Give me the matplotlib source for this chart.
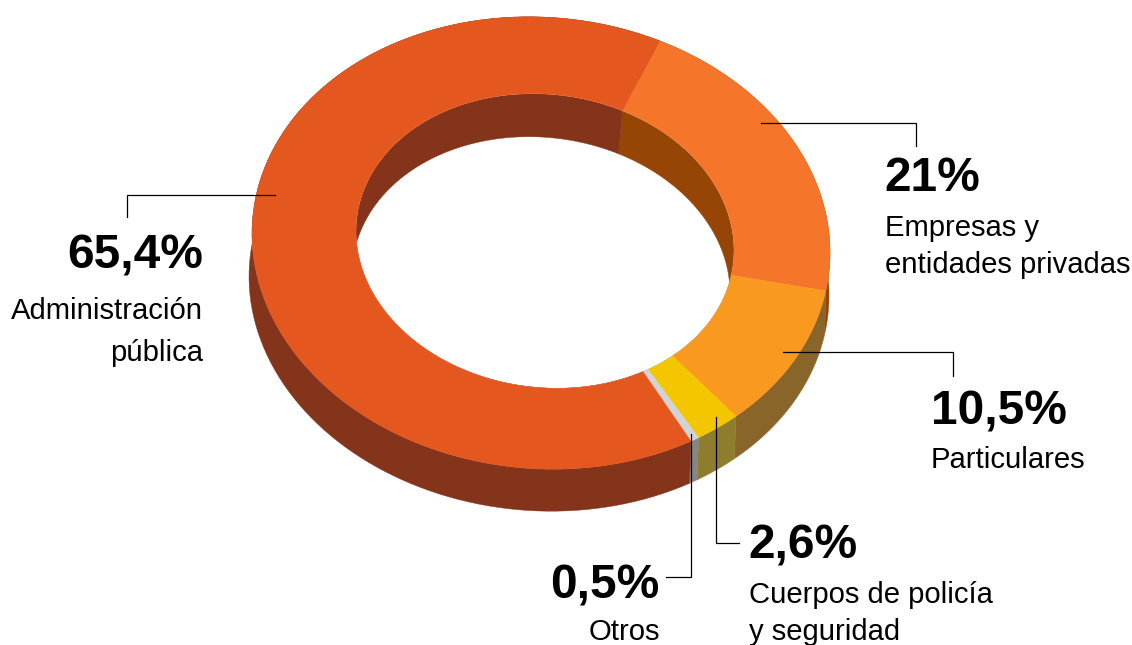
import numpy as np
import matplotlib
matplotlib.use("Agg")
import matplotlib.pyplot as plt
from matplotlib.patches import Polygon

plt.rcParams["font.family"] = ["Liberation Sans", "DejaVu Sans"]

# clockwise from the 21% slice
names = ["Empresas y\nentidades privadas", "Particulares", "Cuerpos de policía\ny seguridad", "Otros", "Administración\npública"]
shares = [21, 10.5, 2.6, 0.5, 65.4]
share_labels = ["21%", "10,5%", "2,6%", "0,5%", "65,4%"]
top_colors = ["#f5762a", "#fa991f", "#f3c600", "#d1d3d4", "#e4571f"]
side_colors = ["#964505", "#8a652a", "#8f7d2e", "#858585", "#84341a"]

START_ANGLE = 24.2

# ellipses of the fake 3D ring, in pixels: cx, cy, rx, ry, tilt
OUTER_TOP = (541, 243, 289, 226, 0.033)
OUTER_BOTTOM = (539, 286, 290, 225, 0.033)
INNER_TOP = (545, 241, 189, 147, 0.05)
INNER_BOTTOM = (541, 284, 189, 147, 0.05)


def arc(ellipse, a0, a1):
    cx, cy, rx, ry, tilt = ellipse
    t = np.radians(np.linspace(a0, a1, 120))
    x = rx * np.sin(t)
    return np.column_stack([cx + x, cy - ry * np.cos(t) + tilt * x])


def band(ax, e1, e2, a0, a1, color, clip=None):
    pts = np.vstack([arc(e1, a0, a1), arc(e2, a1, a0)])
    patch = Polygon(pts, closed=True, facecolor=color, edgecolor=color, linewidth=0.3)
    ax.add_patch(patch)
    if clip is not None:
        patch.set_clip_path(clip)
    return patch


fig = plt.figure(figsize=(11.32, 6.45), dpi=100)
ax = fig.add_axes([0, 0, 1, 1])
ax.set_xlim(0, 1132)
ax.set_ylim(645, 0)
ax.axis("off")

angles = START_ANGLE + np.concatenate([[0], np.cumsum(shares)]) * 360 / sum(shares)

hole = Polygon(arc(INNER_TOP, 0, 360), closed=True, facecolor="none", edgecolor="none")
ax.add_patch(hole)

for i in range(len(shares)):
    a0, a1 = angles[i], angles[i + 1]
    band(ax, OUTER_TOP, OUTER_BOTTOM, a0, a1, side_colors[i])
    band(ax, INNER_TOP, INNER_BOTTOM, a0, a1, side_colors[i], clip=hole)

for i in range(len(shares)):
    band(ax, OUTER_TOP, INNER_TOP, angles[i], angles[i + 1], top_colors[i])

leaders = [
    ([761, 916, 916], [123, 123, 146]),
    ([783, 953, 953], [352, 352, 376]),
    ([716, 716, 739], [417, 543, 543]),
    ([691, 691, 666], [434, 577, 577]),
    ([275, 127, 127], [195, 195, 217]),
]
for xs, ys in leaders:
    ax.plot(xs, ys, color="black", linewidth=0.9, solid_joinstyle="miter")

value_pos = [(884, 191, "left"), (931, 425, "left"), (748, 559, "left"), (659, 598, "right"), (203, 268, "right")]
name_pos = [(885, [236, 273]), (931, [468]), (749, [603, 640]), (660, [640]), (203, [319, 361])]
for i, label in enumerate(share_labels):
    x, y, ha = value_pos[i]
    ax.text(x, y, label, fontsize=34.5, fontweight="bold", ha=ha, va="baseline", color="black")
    nx, ys = name_pos[i]
    for line, ny in zip(names[i].split("\n"), ys):
        ax.text(nx, ny, line, fontsize=21.1, ha=ha, va="baseline", color="black")

fig.savefig("out.png", dpi=100)
